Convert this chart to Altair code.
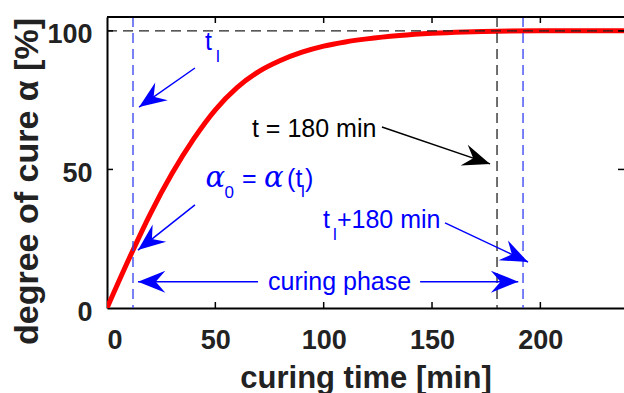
import math
import altair as alt
import pandas as pd

# ---------------- data ----------------
t_min = [0, 10, 20, 30, 40, 50, 60, 70, 80, 90, 100, 110, 120, 135, 150, 165, 180, 200, 240]
alpha_pct = [0, 17.5, 34, 48.5, 61, 71.5, 79.5, 85.3, 89.3, 92.3, 94.5, 96, 97.1, 98.3, 99.1, 99.6, 99.9, 100, 100]

x_tick_values = [0, 50, 100, 150, 200]
y_tick_values = [0, 50, 100]
inner_x_ticks = [50, 100, 150, 200]
inner_y_ticks = [50, 100]

t_l = 12
t_180 = 180
t_l_180 = 192
alpha_full = 100

# ---------------- layout / style ----------------
W, H = 517, 291
X_MAX, Y_MAX = 238.6, 105
SX, SY = W / X_MAX, H / Y_MAX
BLUE = "#0000ff"
DASH_BLUE = "#3040f0"
BLACK = "#000000"
SANS = "Liberation Sans"
ARROW = "M0,0 L-0.4,1 L0,0.65 L0.4,1 Z"

xs = alt.Scale(domain=[0, X_MAX], nice=False, zero=False)
ys = alt.Scale(domain=[0, Y_MAX], nice=False, zero=False)
x_axis = alt.Axis(values=x_tick_values, format="d")
y_axis = alt.Axis(values=y_tick_values, format="d")
X_TITLE = "curing time [min]"
Y_TITLE = "degree of cure α [%]"


def X(f):
    return alt.X(f, type="quantitative", scale=xs, axis=x_axis, title=X_TITLE)


def Y(f):
    return alt.Y(f, type="quantitative", scale=ys, axis=y_axis, title=Y_TITLE)


curve_df = pd.DataFrame({"t": t_min, "a": alpha_pct})

curve = alt.Chart(curve_df).mark_line(
    color="#ff0000", strokeWidth=5, interpolate="monotone", clip=True
).encode(x=X("t"), y=Y("a"))

# dashed reference lines
hline = alt.Chart(pd.DataFrame({"a": [alpha_full]})).mark_rule(
    color="#222222", strokeWidth=1.4, strokeDash=[10, 6]
).encode(y=Y("a"), x=alt.value(0), x2=alt.value(W))

vlines_df = pd.DataFrame({
    "t": [t_l, t_180, t_l_180],
    "c": [DASH_BLUE, "#222222", DASH_BLUE],
})
vlines = alt.Chart(vlines_df).mark_rule(strokeWidth=1.3, strokeDash=[10, 6]).encode(
    x=X("t"), y=alt.value(0), y2=alt.value(H), color=alt.Color("c:N", scale=None)
)

# frame and inward ticks
frame_top = alt.Chart(pd.DataFrame({"k": [0]})).mark_rule(color=BLACK, strokeWidth=2).encode(
    x=alt.value(0), x2=alt.value(W), y=alt.value(0)
)
xt_df = pd.DataFrame({"t": inner_x_ticks})
yt_df = pd.DataFrame({"a": inner_y_ticks})
ticks_bottom = alt.Chart(xt_df).mark_rule(color=BLACK, strokeWidth=1.5).encode(
    x=X("t"), y=alt.value(H), y2=alt.value(H - 6))
ticks_top = alt.Chart(xt_df).mark_rule(color=BLACK, strokeWidth=1.5).encode(
    x=X("t"), y=alt.value(0), y2=alt.value(6))
ticks_left = alt.Chart(yt_df).mark_rule(color=BLACK, strokeWidth=1.5).encode(
    y=Y("a"), x=alt.value(0), x2=alt.value(6))
ticks_right = alt.Chart(yt_df).mark_rule(color=BLACK, strokeWidth=1.5).encode(
    y=Y("a"), x=alt.value(W), x2=alt.value(W - 6))

# arrows (start -> tip, data units)
arrows = [
    (40.6, 86.6, 14.8, 72.5, BLUE),
    (126.9, 65.3, 176.8, 52.0, BLACK),
    (40.6, 37.2, 14.3, 20.9, BLUE),
    (156.0, 30.7, 194.3, 16.6, BLUE),
    (69.7, 9.5, 14.3, 9.5, BLUE),
    (144.5, 9.5, 189.8, 9.5, BLUE),
]
arr_df = pd.DataFrame(arrows, columns=["x1", "y1", "x2", "y2", "c"])
arr_df["ang"] = [
    (math.degrees(math.atan2((r.x2 - r.x1) * SX, (r.y2 - r.y1) * SY)) + 360) % 360
    for r in arr_df.itertuples()
]
arrow_lines = alt.Chart(arr_df).mark_rule(strokeWidth=1.5).encode(
    x=X("x1"), y=Y("y1"), x2="x2:Q", y2="y2:Q", color=alt.Color("c:N", scale=None)
)
arrow_heads = alt.Chart(arr_df).mark_point(
    shape=ARROW, filled=True, opacity=1, strokeWidth=0
).encode(
    x=X("x2"), y=Y("y2"), angle=alt.Angle("ang:Q", scale=None),
    color=alt.Color("c:N", scale=None), size=alt.value(3000)
)

# text annotations (sans)
labels = [
    (45.2, 93.1, "t", 25, BLUE),
    (50.3, 88.8, "l", 17, BLUE),
    (66.9, 61.7, "t = 180 min", 25, BLACK),
    (54.2, 39.7, "0", 17, BLUE),
    (62.3, 43.7, "=", 25, BLUE),
    (83.1, 43.7, "(t", 25, BLUE),
    (89.5, 40.1, "l", 17, BLUE),
    (91.4, 43.7, ")", 25, BLUE),
    (99.7, 28.9, "t", 25, BLUE),
    (104.3, 24.5, "l", 17, BLUE),
    (106.1, 28.9, "+180 min", 25, BLUE),
    (74.3, 6.5, "curing phase", 25, BLUE),
]
lab_df = pd.DataFrame(labels, columns=["t", "a", "s", "fs", "c"])
text_sans = alt.Chart(lab_df).mark_text(
    align="left", baseline="alphabetic", font=SANS
).encode(
    x=X("t"), y=Y("a"), text="s:N",
    size=alt.Size("fs:Q", scale=None), color=alt.Color("c:N", scale=None)
)

greek = [
    (45.5, 43.7, "α"),
    (72.5, 43.7, "α"),
]
greek_df = pd.DataFrame(greek, columns=["t", "a", "s"])
text_greek = alt.Chart(greek_df).mark_text(
    align="left", baseline="alphabetic", font="DejaVu Serif",
    fontStyle="italic", fontSize=29, color=BLUE
).encode(x=X("t"), y=Y("a"), text="s:N")

chart = alt.layer(
    curve, hline, vlines, frame_top, ticks_bottom, ticks_top, ticks_left, ticks_right,
    arrow_lines, arrow_heads, text_sans, text_greek
).properties(
    width=W, height=H,
    autosize=alt.AutoSizeParams(type="none"),
    padding={"left": 107, "top": 17, "right": 0, "bottom": 85},
).configure_view(stroke=None).configure_axis(
    grid=False, ticks=False, tickSize=0, domain=True, domainColor=BLACK, domainWidth=2,
    labelFont=SANS, labelFontWeight="bold", labelColor="#222222",
    titleFont=SANS, titleFontWeight="bold", titleColor="#222222",
).configure_axisX(
    labelFontSize=27, labelPadding=19,
    titleFontSize=31, titleY=79, titleBaseline="alphabetic",
).configure_axisY(
    labelFontSize=27, labelPadding=15, labelOffset=4,
    titleFontSize=34, titleX=-80, titleY=164, titleBaseline="middle",
    titleAlign="center",
)

chart.save("out.html", embed_options={"renderer": "svg", "actions": False})
